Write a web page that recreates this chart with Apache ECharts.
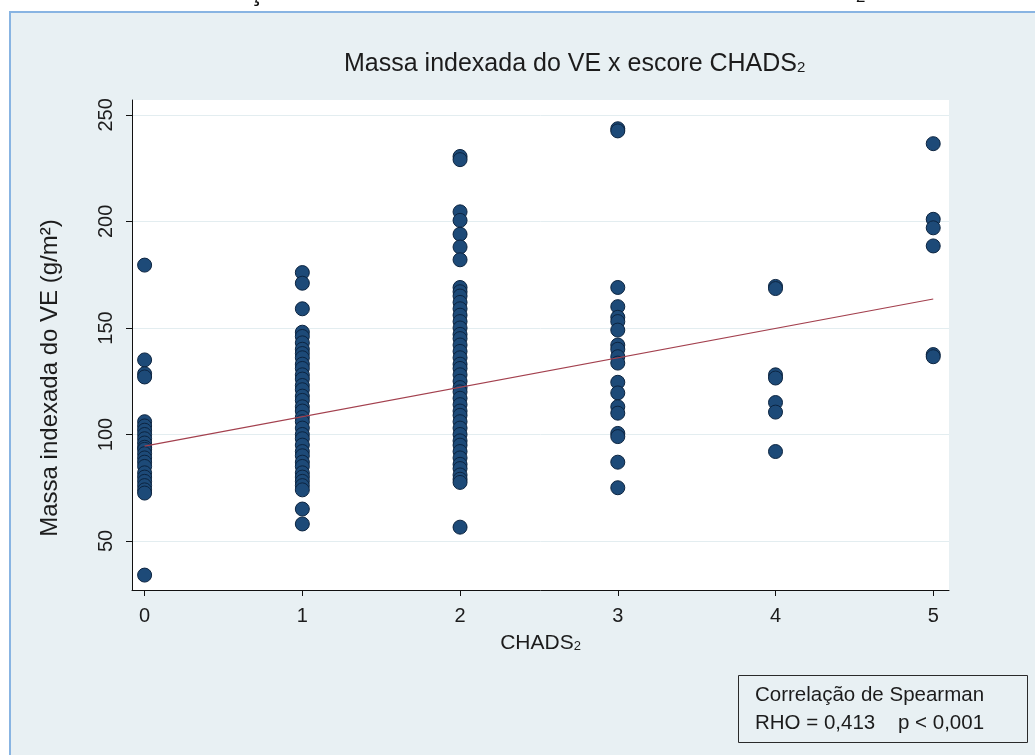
<!DOCTYPE html>
<html>
<head>
<meta charset="utf-8">
<script src="https://cdn.jsdelivr.net/npm/echarts@6/dist/echarts.min.js"></script>
<style>
  html, body { margin: 0; padding: 0; background: #ffffff; overflow: hidden; }
  #panel {
    position: absolute; left: 9px; top: 11px; width: 1040px; height: 760px;
    background: #e8f0f3; border-left: 2px solid #88b4e2; border-top: 2px solid #88b4e2;
  }
  #chart { position: absolute; left: 0; top: 0; width: 1035px; height: 755px; }
</style>
</head>
<body>
<div id="panel"></div>
<div id="chart"></div>
<script>
// CHADS2 score categories and tick values
const scores = [0, 1, 2, 3, 4, 5];
const yTicks = [50, 100, 150, 200, 250];

// Indexed LV mass (g/m²) of each patient, grouped by CHADS2 score
const massScore0 = [179.5, 135, 128.5, 127, 106, 104, 102, 100, 98, 96, 94, 93, 91, 89, 87, 85, 82, 80, 78, 76, 74, 72.5, 34];
const massScore1 = [176, 171, 159, 148, 146, 143, 140, 138, 136, 133, 131, 128, 126, 123, 121, 118, 116, 113, 111, 108,
                    106, 103, 100, 98, 95, 92, 90, 87, 85, 82, 80, 78, 76, 74, 65, 58];
const massScore2 = [230.5, 229, 204.5, 200.5, 194, 188, 182, 169, 167, 165, 162, 159, 156, 153, 150, 147, 145, 142, 139,
                    136, 133, 131, 128, 125, 122, 120, 117, 114, 111, 109, 106, 103, 100, 97, 95, 92, 89, 86, 84, 81,
                    79, 77.5, 56.5];
const massScore3 = [243.5, 242.5, 169, 160, 155, 153, 149, 142, 140, 136.5, 133.5, 124.5, 119.5, 113, 110, 100.5, 99, 87, 75];
const massScore4 = [169.5, 168.5, 128, 126.5, 115, 110.5, 92];
const massScore5 = [236.5, 201, 197, 188.5, 137.5, 136.5];

// Fitted linear trend (value at score 0 and at score 5)
const fitScores = [0, 5];
const fitValues = [94.5, 163.6];

// Annotation text
const corrTitle = 'Correlação de Spearman';
const corrStats = 'RHO = 0,413    p < 0,001';

const groups = [massScore0, massScore1, massScore2, massScore3, massScore4, massScore5];
const points = [];
groups.forEach((vals, i) => vals.forEach(v => points.push([scores[i], v])));
const fitData = fitScores.map((s, i) => [s, fitValues[i]]);

const FONT = 'Liberation Sans, Arial, sans-serif';
const INK = '#1c1c1c';
const chart = echarts.init(document.getElementById('chart'), null, { renderer: 'canvas' });

chart.setOption({
  animation: false,
  backgroundColor: 'transparent',
  textStyle: { fontFamily: FONT },
  title: {
    text: '{a|Massa indexada do VE x escore CHADS}{s|2}',
    left: 339, top: 44,
    textStyle: {
      fontWeight: 'normal',
      rich: {
        a: { fontFamily: FONT, fontSize: 25, fontWeight: 'normal', color: INK, lineHeight: 30 },
        s: { fontFamily: FONT, fontSize: 15, fontWeight: 'normal', color: INK, lineHeight: 30, padding: [8, 0, 0, 0] }
      }
    }
  },
  grid: {
    left: 132, top: 100, right: 86, bottom: 165,
    show: true, backgroundColor: '#ffffff', borderWidth: 0
  },
  xAxis: {
    type: 'value', min: -0.08, max: 5.1,
    name: '{a|CHADS}{s|2}', nameLocation: 'middle', nameGap: 40,
    nameTextStyle: {
      rich: {
        a: { fontFamily: FONT, fontSize: 21, color: INK, lineHeight: 26 },
        s: { fontFamily: FONT, fontSize: 13, color: INK, lineHeight: 26, padding: [7, 0, 0, 0] }
      }
    },
    axisLine: { show: true, onZero: false, lineStyle: { color: '#111', width: 1 } },
    axisTick: { show: true, customValues: scores, length: 6, inside: false, lineStyle: { color: '#111' } },
    axisLabel: { customValues: scores, fontSize: 20, color: INK, margin: 16, fontFamily: FONT },
    splitLine: { show: false }
  },
  yAxis: {
    type: 'value', min: 27, max: 257,
    name: 'Massa indexada do VE (g/m²)', nameLocation: 'middle', nameGap: 70, nameRotate: 90,
    nameTextStyle: { fontFamily: FONT, fontSize: 24, color: INK, padding: [0, 66, 0, 0] },
    axisLine: { show: true, onZero: false, lineStyle: { color: '#111', width: 1 } },
    axisTick: { show: true, customValues: yTicks, length: 6, inside: false, lineStyle: { color: '#111' } },
    axisLabel: { customValues: yTicks, rotate: 90, fontSize: 20, color: INK, margin: 16, fontFamily: FONT },
    splitLine: { show: true, lineStyle: { color: '#e3edf0', width: 1 } }
  },
  series: [
    {
      type: 'scatter',
      data: points,
      symbol: 'circle',
      symbolSize: 14,
      itemStyle: { color: '#1d4a78', borderColor: '#0c2440', borderWidth: 1, opacity: 1 },
      z: 2
    },
    {
      type: 'line',
      data: fitData,
      showSymbol: false,
      symbol: 'none',
      lineStyle: { color: '#a3404e', width: 1.2 },
      z: 3
    }
  ],
  graphic: [
    {
      // caption line running above the panel, cut by the page edge
      type: 'text', silent: true, x: 23, y: 6,
      style: { text: 'Gráfico 1 – Correlação entre Massa indexada do VE e escore CHADS₂',
               font: '26.8px Liberation Sans, Arial, sans-serif', fill: '#111', verticalAlign: 'bottom' }
    },
    {
      type: 'rect', silent: true,
      shape: { x: 738.5, y: 675.5, width: 289, height: 67 },
      style: { fill: 'transparent', stroke: '#2a2a2a', lineWidth: 1 }
    },
    {
      type: 'text', silent: true, x: 755, y: 681,
      style: { text: corrTitle + '\n' + corrStats, font: '20.5px Liberation Sans, Arial, sans-serif',
               fill: INK, lineHeight: 28 }
    }
  ]
});
</script>
</body>
</html>
